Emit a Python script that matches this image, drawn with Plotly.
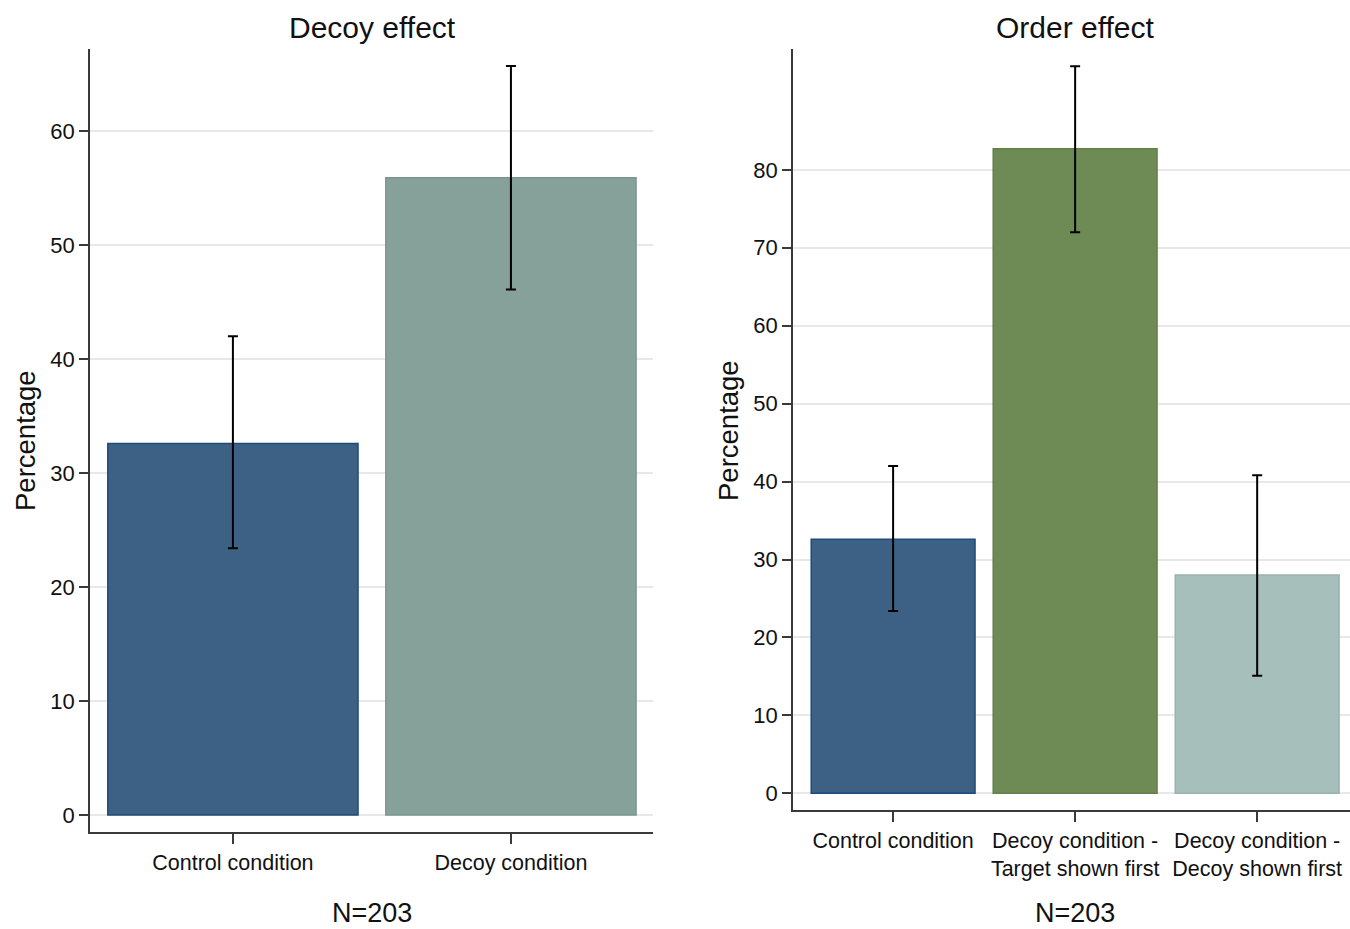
import plotly.graph_objects as go

# ---- data ----
left_categories = ["Control condition", "Decoy condition"]
left_values = [32.6, 55.9]
left_err_plus = [9.4, 9.8]
left_err_minus = [9.2, 9.8]

right_categories = ["Control condition", "Decoy condition -<br>Target shown first", "Decoy condition -<br>Decoy shown first"]
right_values = [32.6, 82.7, 28.0]
right_err_plus = [9.4, 10.6, 12.8]
right_err_minus = [9.2, 10.7, 12.9]

left_yticks = [0, 10, 20, 30, 40, 50, 60]
right_yticks = [0, 10, 20, 30, 40, 50, 60, 70, 80]

left_colors = ["#3d6185", "#86a19a"]
left_lines = ["#1f4b78", "#7a9690"]
right_colors = ["#3d6185", "#6f8b55", "#a7bfbb"]
right_lines = ["#1f4b78", "#62804a", "#9bb3af"]

W, H = 1350, 929
FONT = "Liberation Sans, Arial, sans-serif"

fig = go.Figure()

fig.add_trace(go.Bar(
    x=left_categories, y=left_values, width=0.9,
    marker=dict(color=left_colors, line=dict(color=left_lines, width=1.5)),
    error_y=dict(type="data", symmetric=False, array=left_err_plus, arrayminus=left_err_minus,
                 color="black", thickness=2, width=5),
    xaxis="x", yaxis="y", showlegend=False,
))
fig.add_trace(go.Bar(
    x=right_categories, y=right_values, width=0.9,
    marker=dict(color=right_colors, line=dict(color=right_lines, width=1.5)),
    error_y=dict(type="data", symmetric=False, array=right_err_plus, arrayminus=right_err_minus,
                 color="black", thickness=2, width=5),
    xaxis="x2", yaxis="y2", showlegend=False,
))

def px_x(p):
    return p / W

def px_y(p):
    return 1 - p / H

axis_common = dict(showline=True, linecolor="#3a3a3a", linewidth=1.5, zeroline=False,
                   ticks="outside", tickcolor="#3a3a3a", tickwidth=1.5,
                   tickfont=dict(family=FONT, size=22, color="#111111"), automargin=False)

fig.update_layout(
    width=W, height=H,
    margin=dict(l=0, r=0, t=0, b=0),
    paper_bgcolor="white", plot_bgcolor="white",
    font=dict(family=FONT, color="#111111"),
    xaxis=dict(domain=[px_x(90), px_x(653)], range=[-0.514, 1.511], showgrid=False,
               ticklen=10, anchor="y", **axis_common),
    yaxis=dict(domain=[px_y(832), px_y(49)], range=[-1.49, 67.2], tickvals=left_yticks,
               showgrid=True, gridcolor="#e8e8e8", gridwidth=2, ticklen=9, anchor="x",
               **axis_common),
    xaxis2=dict(domain=[px_x(793), 1.0], range=[-0.55, 2.51], showgrid=False,
                ticklen=10, anchor="y2", **axis_common),
    yaxis2=dict(domain=[px_y(810), px_y(49)], range=[-2.14, 95.5], tickvals=right_yticks,
                showgrid=True, gridcolor="#e8e8e8", gridwidth=2, ticklen=9, anchor="x2",
                **axis_common),
    bargap=0.1,
)
fig.update_xaxes(tickfont=dict(size=21.5))

annots = [
    dict(text="Decoy effect", x=px_x(372), y=px_y(28), size=30),
    dict(text="Order effect", x=px_x(1075), y=px_y(28), size=30),
    dict(text="N=203", x=px_x(372), y=px_y(913), size=27),
    dict(text="N=203", x=px_x(1075), y=px_y(913), size=27),
]
for a in annots:
    fig.add_annotation(text=a["text"], x=a["x"], y=a["y"], xref="paper", yref="paper",
                       xanchor="center", yanchor="middle", showarrow=False,
                       font=dict(family=FONT, size=a["size"], color="#111111"))

fig.add_annotation(text="Percentage", x=px_x(25), y=px_y(441), xref="paper", yref="paper",
                   textangle=-90, xanchor="center", yanchor="middle", showarrow=False,
                   font=dict(family=FONT, size=27.5, color="#111111"))
fig.add_annotation(text="Percentage", x=px_x(728), y=px_y(430), xref="paper", yref="paper",
                   textangle=-90, xanchor="center", yanchor="middle", showarrow=False,
                   font=dict(family=FONT, size=27.5, color="#111111"))

fig.write_html("out.html", config={"displayModeBar": False},
               post_script="document.body.style.margin='0';document.body.style.overflow='hidden';")
